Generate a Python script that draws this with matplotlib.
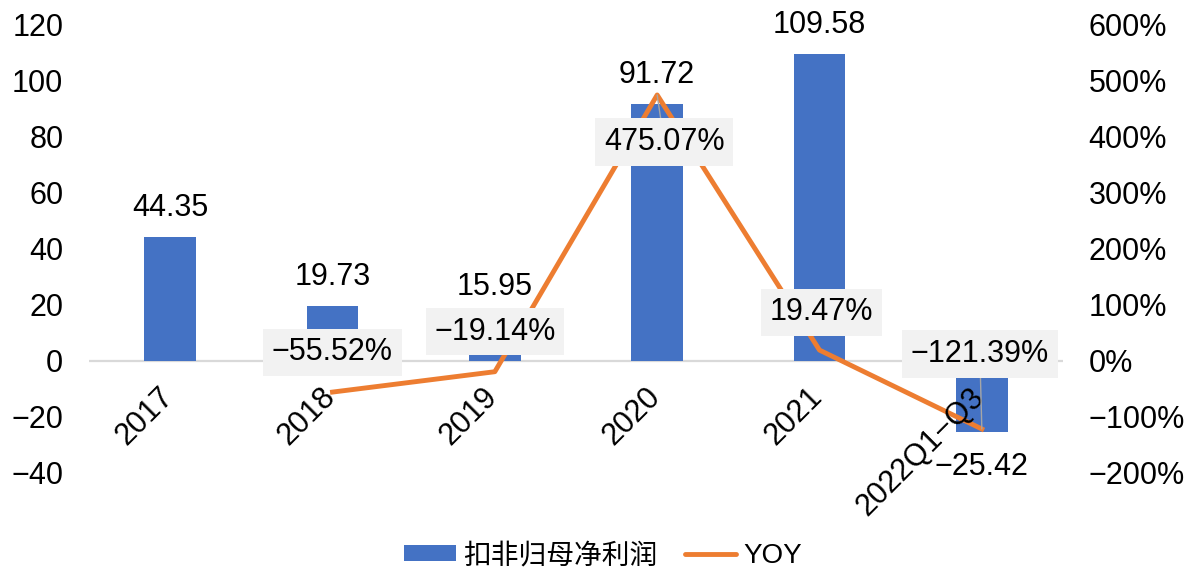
import matplotlib
matplotlib.use("Agg")
import matplotlib.pyplot as plt
from matplotlib.patches import Patch
from matplotlib.lines import Line2D
from matplotlib.ticker import FuncFormatter, MultipleLocator
import numpy as np

plt.rcParams["font.family"] = ["Liberation Sans", "Noto Sans CJK SC", "DejaVu Sans"]

# Data
categories = ["2017", "2018", "2019", "2020", "2021", "2022Q1\u2212Q3"]
profit = [44.35, 19.73, 15.95, 91.72, 109.58, -25.42]          # 扣非归母净利润
yoy = [np.nan, -55.52, -19.14, 475.07, 19.47, -121.39]          # YOY (%)

BAR_COLOR = "#4472C4"
LINE_COLOR = "#ED7D31"
FS = 22

# Label placement for the YOY data labels (pixel offsets) and whether a leader line is drawn
yoy_label_offsets = [None, (0, 40), (0, 40), (7, -47), (2, 38), (-2, 75)]
yoy_leaders = [False, False, False, True, False, True]


def fmt_minus(s):
    return s.replace("-", "\u2212")


fig = plt.figure(figsize=(11.88, 5.67), dpi=100)
ax = fig.add_axes([89 / 1188, 1 - 473 / 567, (1063 - 89) / 1188, (473 - 25) / 567])

x = np.arange(len(categories))
ax.bar(x, profit, width=0.32, color=BAR_COLOR, zorder=2)
ax.axhline(0, color="#d9d9d9", lw=1.6, zorder=1)
ax.set_xlim(-0.5, len(categories) - 0.5)
ax.set_ylim(-40, 120)
ax.yaxis.set_major_locator(MultipleLocator(20))
ax.set_xticks([])
ax.tick_params(axis="y", length=0, pad=18.5, labelsize=FS, labelcolor="black")
for s in ax.spines.values():
    s.set_visible(False)

ax2 = ax.twinx()
ax2.set_ylim(-200, 600)
ax2.yaxis.set_major_locator(MultipleLocator(100))
ax2.yaxis.set_major_formatter(FuncFormatter(lambda v, p: fmt_minus(f"{v:.0f}%")))
ax2.tick_params(axis="y", length=0, pad=18.5, labelsize=FS, labelcolor="black")
for s in ax2.spines.values():
    s.set_visible(False)

ax2.plot(x, yoy, color=LINE_COLOR, lw=3.5, zorder=3)

# Category labels, rotated, hanging just below the zero line
for i, cat in enumerate(categories):
    ax2.annotate(cat, xy=(i, 0), xytext=(9, -21), textcoords="offset pixels",
                 rotation=45, ha="right", va="top", fontsize=FS, color="black", zorder=6)

# Bar value labels
for i, v in enumerate(profit):
    ax2.annotate(fmt_minus(f"{v:.2f}"), xy=(i, v), xycoords=ax.transData,
                 xytext=(0, 21 if v >= 0 else -43), textcoords="offset pixels",
                 ha="center", va="baseline", fontsize=FS, color="black", zorder=6)

# YOY value labels in shaded boxes
for i, v in enumerate(yoy):
    if np.isnan(v):
        continue
    arrow = dict(arrowstyle="-", color="#a6a6a6", lw=1, shrinkA=0, shrinkB=0) if yoy_leaders[i] else None
    ax2.annotate(fmt_minus(f"{v:.2f}%"), xy=(i, v), xytext=yoy_label_offsets[i],
                 textcoords="offset pixels", ha="center", va="center", fontsize=FS,
                 color="black", zorder=7,
                 bbox=dict(boxstyle="square,pad=0.28", fc="#f2f2f2", ec="none"),
                 arrowprops=arrow)

handles = [Patch(facecolor=BAR_COLOR, edgecolor="none"),
           Line2D([], [], color=LINE_COLOR, lw=3.5, solid_capstyle="round")]
fig.legend(handles, ["扣非归母净利润", "YOY"], loc="center",
           bbox_to_anchor=(603 / 1188, 1 - 556 / 567), ncol=2, frameon=False,
           fontsize=20, handlelength=1.85, handleheight=0.5, handletextpad=0.25,
           columnspacing=1.0)

fig.savefig("out.png", dpi=100)
